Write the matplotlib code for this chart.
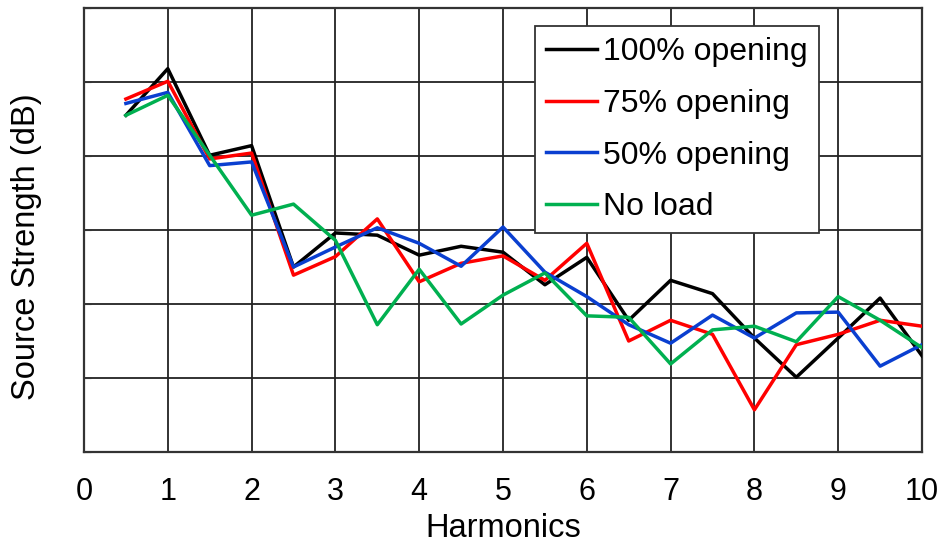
import matplotlib
matplotlib.use("Agg")
import matplotlib.pyplot as plt

plt.rcParams['font.family'] = ['Liberation Sans', 'DejaVu Sans']

harmonics = [0.5, 1, 1.5, 2, 2.5, 3, 3.5, 4, 4.5, 5, 5.5, 6, 6.5, 7, 7.5, 8, 8.5, 9, 9.5, 10]
open100 = [4.55, 5.18, 4.01, 4.14, 2.50, 2.96, 2.93, 2.66, 2.78, 2.70, 2.26, 2.63, 1.78, 2.32, 2.14, 1.54, 1.01, 1.54, 2.08, 1.30]
open75 = [4.77, 5.01, 3.96, 4.04, 2.39, 2.64, 3.15, 2.30, 2.55, 2.65, 2.32, 2.82, 1.50, 1.78, 1.59, 0.57, 1.45, 1.59, 1.78, 1.70]
open50 = [4.71, 4.86, 3.87, 3.92, 2.50, 2.77, 3.03, 2.82, 2.51, 3.04, 2.43, 2.10, 1.72, 1.47, 1.85, 1.54, 1.88, 1.89, 1.16, 1.45]
noload = [4.55, 4.82, 4.01, 3.20, 3.35, 2.86, 1.72, 2.47, 1.73, 2.12, 2.42, 1.84, 1.82, 1.19, 1.65, 1.70, 1.49, 2.10, 1.78, 1.41]

labels = ["100% opening", "75% opening", "50% opening", "No load"]
series = [open100, open75, open50, noload]
colors = ["#000000", "#FF0000", "#0A3FD0", "#00B050"]
xticks = list(range(0, 11))

fig = plt.figure(figsize=(9.46, 5.48), dpi=100)
ax = fig.add_axes([84/946, 96/548, 838/946, 444/548])

for ys, lab, c in zip(series, labels, colors):
    ax.plot(harmonics, ys, color=c, lw=2.5, label=lab, zorder=3)

ax.set_xlim(0, 10)
ax.set_ylim(0, 6)
ax.set_xticks(xticks)
ax.set_xticklabels([str(t) for t in xticks], fontsize=22)
ax.set_yticks(range(0, 7))
ax.set_yticklabels([])
ax.tick_params(axis='x', length=0, pad=18)
ax.tick_params(axis='y', length=5, direction='in', color='#333333')
ax.grid(True, color='#222222', lw=1.3, zorder=1)
for s in ax.spines.values():
    s.set_color('#333333')
    s.set_linewidth(1.6)

ax.set_xlabel("Harmonics", fontsize=23.5, labelpad=4)
ax.set_ylabel("Source Strength (dB)", fontsize=23.5)
ax.yaxis.set_label_coords(-0.05, 0.462)

leg = ax.legend(loc='upper left', bbox_to_anchor=(0.538, 0.959), borderaxespad=0,
                fontsize=23, handlelength=1.6, handletextpad=0.2, labelspacing=0.68,
                borderpad=0.34, fancybox=False, framealpha=1, edgecolor='#333333')
leg.get_frame().set_linewidth(1.3)
leg.set_zorder(5)

fig.savefig("out.png", dpi=100)
